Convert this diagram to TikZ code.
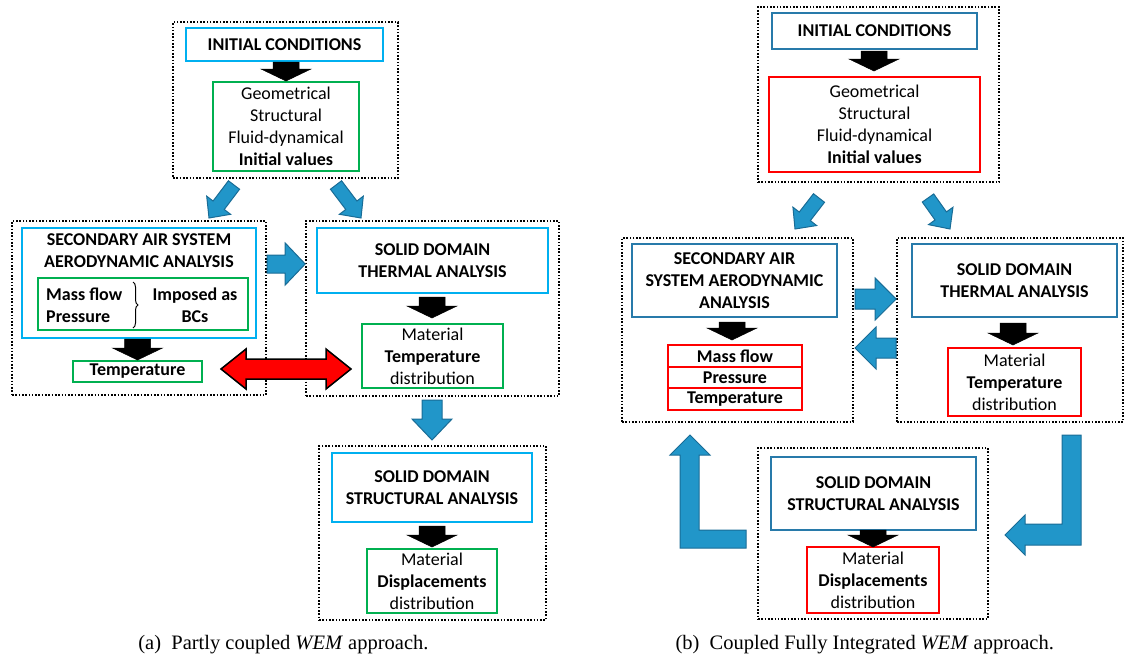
\documentclass[tikz,border=0pt]{standalone}
\usepackage{fontspec}
\setmainfont{Carlito}
\newfontfamily\capfont{Liberation Serif}
\usetikzlibrary{calc,decorations.pathreplacing}
\definecolor{lb}{RGB}{0,176,240}
\definecolor{gr}{RGB}{0,176,80}
\definecolor{db}{RGB}{40,122,170}
\definecolor{rd}{RGB}{255,0,0}
\definecolor{af}{RGB}{33,150,201}
\definecolor{ad}{RGB}{25,108,150}
\newcommand\bxf{\fontsize{18}{22}\selectfont}
% box node from corners: style, name, x1, y1, x2, y2, text
\newcommand\bx[7]{%
  \node[#1,minimum width={(#5-#3)*1pt},minimum height={(#6-#4)*1pt}] (#2) at ({(#3+#5)/2},{(#4+#6)/2}) {#7};}
% block arrow: style, from, to, shaft half width, head half width, head length
\newcommand\blockarrow[6]{%
  \coordinate (bah) at ($(#3)!#6!(#2)$);
  \filldraw[#1] ($(#2)!#4!90:(#3)$) -- ($(bah)!#4!90:(#3)$) -- ($(bah)!#5!90:(#3)$) -- (#3) -- ($(bah)!#5!-90:(#3)$) -- ($(bah)!#4!-90:(#3)$) -- ($(#2)!#4!-90:(#3)$) -- cycle;}
% double block arrow
\newcommand\dblarrow[6]{%
  \coordinate (dh1) at ($(#2)!#6!(#3)$);
  \coordinate (dh2) at ($(#3)!#6!(#2)$);
  \filldraw[#1] (#2) -- ($(dh1)!#5!90:(#3)$) -- ($(dh1)!#4!90:(#3)$) -- ($(dh2)!#4!90:(#3)$) -- ($(dh2)!#5!90:(#3)$) -- (#3) -- ($(dh2)!#5!-90:(#3)$) -- ($(dh2)!#4!-90:(#3)$) -- ($(dh1)!#4!-90:(#3)$) -- ($(dh1)!#5!-90:(#3)$) -- cycle;}
\begin{document}
\begin{tikzpicture}[x=1pt,y=-1pt,
  dotbox/.style={draw=black,line width=1.6pt,dash pattern=on 1.6pt off 1.7pt,inner sep=0pt},
  lbbox/.style={draw=lb,line width=2pt,inner sep=0pt,align=center,font=\bxf\bfseries},
  dbbox/.style={draw=db,line width=2pt,inner sep=0pt,align=center,font=\bxf\bfseries},
  gbox/.style={draw=gr,line width=2pt,inner sep=0pt,align=center,font=\bxf},
  rbox/.style={draw=rd,line width=2pt,inner sep=0pt,align=center,font=\bxf},
  bold/.style={font=\bxf\bfseries},
  karr/.style={fill=black,draw=black,line width=0.5pt},
  barr/.style={fill=af,draw=ad,line width=1pt},
  rarr/.style={fill=rd,draw=black,line width=1.5pt},
  capt/.style={font=\capfont\fontsize{20.5}{24}\selectfont}]
\useasboundingbox (0,0) rectangle (1125,662);

% ---------------- panel (a) ----------------
\bx{dotbox}{icdA}{173}{22}{398}{178}{}
\bx{lbbox}{icA}{186}{28}{383}{61}{INITIAL CONDITIONS}
\bx{gbox}{ivA}{213}{82}{359}{171}{Geometrical\\Structural\\Fluid-dynamical\\\textbf{Initial values}}

\bx{dotbox}{sasdA}{12}{221}{266}{395}{}
\bx{lbbox}{sasA}{22}{228}{256}{338}{}
\node[bold,align=center] (sastA) at (139,251) {SECONDARY AIR SYSTEM\\AERODYNAMIC ANALYSIS};
\bx{gbox}{bcA}{38}{278}{248}{330}{}
\node[bold,align=left,anchor=west,inner sep=0pt] (mpA) at (46,305) {Mass flow\\Pressure};
\node[bold,align=center] (impA) at (195,305) {Imposed as\\BCs};
\draw[decorate,decoration={brace,amplitude=5pt},line width=1pt] (133,282) -- (133,328);
\bx{gbox,font=\bxf\bfseries}{tmpA}{73}{361}{202}{382}{Temperature}

\bx{dotbox}{thdA}{306}{221}{559}{396}{}
\bx{lbbox}{thA}{317}{228}{548}{293}{SOLID DOMAIN\\THERMAL ANALYSIS}
\bx{gbox}{mtA}{362}{324}{503}{388}{Material\\\textbf{Temperature}\\distribution}

\bx{dotbox}{stdA}{319}{446}{546}{620}{}
\bx{lbbox}{stA}{332}{453}{532}{522}{SOLID DOMAIN\\STRUCTURAL ANALYSIS}
\bx{gbox}{mdA}{367}{549}{497}{613}{Material\\\textbf{Displacements}\\distribution}

% arrows (a)
\coordinate (a1s) at (icA.south -| ivA.north);
\blockarrow{karr}{a1s}{ivA.north}{13pt}{25pt}{12pt}
\coordinate (a2s) at (234,185); \coordinate (a2e) at (209,218);
\blockarrow{barr}{a2s}{a2e}{7pt}{15pt}{16pt}
\coordinate (a3s) at (336,185); \coordinate (a3e) at (361,218);
\blockarrow{barr}{a3s}{a3e}{7pt}{15pt}{16pt}
\coordinate (a4s) at (267,264); \coordinate (a4e) at (thdA.west |- a4s);
\blockarrow{barr}{a4s}{a4e}{9pt}{21pt}{20pt}
\coordinate (a5s) at (sasA.south -| tmpA.north);
\blockarrow{karr}{a5s}{tmpA.north}{13pt}{25pt}{12pt}
\coordinate (a6s) at (432,297); \coordinate (a6e) at (432,318);
\blockarrow{karr}{a6s}{a6e}{13pt}{25pt}{12pt}
\coordinate (a7s) at (221,369); \coordinate (a7e) at (351,369);
\dblarrow{rarr}{a7s}{a7e}{10pt}{20pt}{25pt}
\coordinate (a8s) at (432,400); \coordinate (a8e) at (432,440);
\blockarrow{barr}{a8s}{a8e}{10pt}{20pt}{21pt}
\coordinate (a9s) at (432,526); \coordinate (a9e) at (432,547);
\blockarrow{karr}{a9s}{a9e}{13pt}{25pt}{12pt}

\node[capt,anchor=base east] (capA) at (432,649) {(a)\hspace{0.5em}Partly coupled \textit{WEM} approach.};

% ---------------- panel (b) ----------------
\bx{dotbox}{icdB}{758}{7}{999}{182}{}
\bx{dbbox}{icB}{772}{13}{977}{49}{INITIAL CONDITIONS}
\bx{rbox}{ivB}{769}{77}{980}{172}{Geometrical\\Structural\\Fluid-dynamical\\\textbf{Initial values}}

\bx{dotbox}{sasdB}{622}{238}{853}{422}{}
\bx{dbbox}{sasB}{632}{244}{837}{317}{SECONDARY AIR\\SYSTEM AERODYNAMIC\\ANALYSIS}
\bx{rbox,font=\bxf\bfseries}{mfB}{668}{345}{802}{367}{Mass flow}
\bx{rbox,font=\bxf\bfseries}{prB}{668}{367}{802}{388}{Pressure}
\bx{rbox,font=\bxf\bfseries}{tpB}{668}{388}{802}{410}{Temperature}

\bx{dotbox}{thdB}{897}{238}{1123}{422}{}
\bx{dbbox}{thB}{912}{244}{1117}{317}{SOLID DOMAIN\\THERMAL ANALYSIS}
\bx{rbox}{mtB}{948}{348}{1081}{416}{Material\\\textbf{Temperature}\\distribution}

\bx{dotbox}{stdB}{758}{448}{988}{619}{}
\bx{dbbox}{stB}{771}{457}{976}{530}{SOLID DOMAIN\\STRUCTURAL ANALYSIS}
\bx{rbox}{mdB}{807}{547}{939}{613}{Material\\\textbf{Displacements}\\distribution}

% arrows (b)
\coordinate (b1s) at (874,51); \coordinate (b1e) at (874,71);
\blockarrow{karr}{b1s}{b1e}{13pt}{25pt}{12pt}
\coordinate (b2s) at (819,198); \coordinate (b2e) at (795,229);
\blockarrow{barr}{b2s}{b2e}{7pt}{15pt}{16pt}
\coordinate (b3s) at (928,198); \coordinate (b3e) at (950,229);
\blockarrow{barr}{b3s}{b3e}{7pt}{15pt}{16pt}
\coordinate (b4s) at (732,322); \coordinate (b4e) at (732,340);
\blockarrow{karr}{b4s}{b4e}{13pt}{25pt}{12pt}
\coordinate (b5s) at (1013,323); \coordinate (b5e) at (1013,345);
\blockarrow{karr}{b5s}{b5e}{13pt}{25pt}{12pt}
\coordinate (b6s) at (855,299); \coordinate (b6e) at (thdB.west |- b6s);
\blockarrow{barr}{b6s}{b6e}{10pt}{21pt}{21pt}
\coordinate (b7s) at (thdB.west |- 0,348); \coordinate (b7e) at (855,348);
\blockarrow{barr}{b7s}{b7e}{10pt}{21pt}{21pt}
\coordinate (b8s) at (873,530); \coordinate (b8e) at (873,547);
\blockarrow{karr}{b8s}{b8e}{13pt}{25pt}{12pt}
% L-shaped arrows
\filldraw[barr] (1062,435) -- (1081,435) -- (1081,545) -- (1025,545) -- (1025,555) -- (1005,535) -- (1025,515) -- (1025,524) -- (1062,524) -- cycle;
\filldraw[barr] (746,548) -- (680,548) -- (680,455) -- (670,455) -- (690,435) -- (710,455) -- (699,455) -- (699,530) -- (746,530) -- cycle;

\node[capt,anchor=base west] (capB) at (672,649) {(b)\hspace{0.5em}Coupled Fully Integrated \textit{WEM} approach.};
\end{tikzpicture}
\end{document}
